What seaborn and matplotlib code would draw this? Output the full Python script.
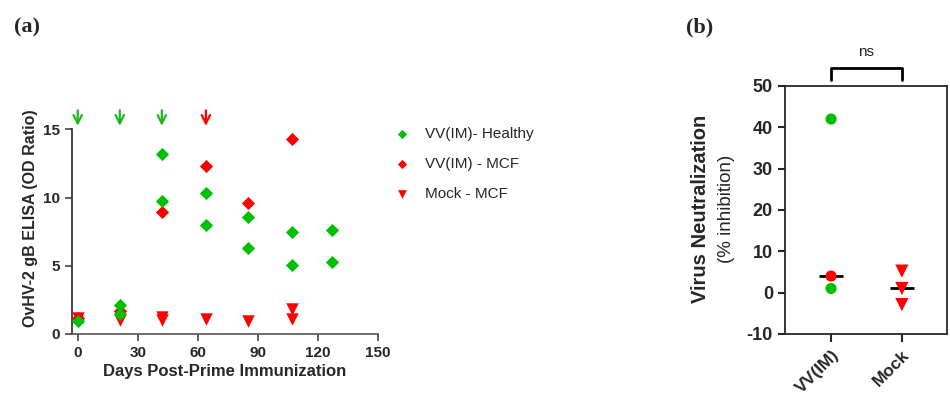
import numpy as np
import pandas as pd
import seaborn as sns
import matplotlib.pyplot as plt

# Panel (a) data: ELISA OD ratio by day
healthy_days = [0, 21, 21, 42, 42, 64, 64, 85, 85, 107, 107, 127, 127]
healthy_od = [0.98, 2.15, 1.47, 13.16, 9.78, 10.34, 8.01, 8.57, 6.27, 7.5, 5.04, 7.65, 5.26]
mcf_days = [0, 21, 42, 64, 85, 107]
mcf_od = [1.2, 1.7, 8.92, 12.3, 9.6, 14.3]
mock_days = [0, 21, 21, 42, 42, 64, 85, 107, 107]
mock_od = [1.2, 1.0, 1.3, 1.05, 1.25, 1.08, 0.98, 1.84, 1.1]
arrow_days = [0, 21, 42, 64]
arrow_colors = ['#1fb51f', '#1fb51f', '#1fb51f', '#ff0000']

# Panel (b) data: virus neutralization
vv_values = [42, 1, 4]
vv_outcome = ['Healthy', 'Healthy', 'MCF']
mock_values = [5.2, 1.0, -2.9]

green = '#00c000'
red = '#ff0000'

df_healthy = pd.DataFrame({'day': healthy_days, 'od': healthy_od})
df_mcf = pd.DataFrame({'day': mcf_days, 'od': mcf_od})
df_mockmcf = pd.DataFrame({'day': mock_days, 'od': mock_od})
df_vv = pd.DataFrame({'grp': 'VV(IM)', 'val': vv_values, 'outcome': vv_outcome})
df_mock = pd.DataFrame({'grp': 'Mock', 'val': mock_values, 'outcome': 'MCF'})

sns.set_style('ticks')
plt.rcParams['font.family'] = ['Liberation Sans', 'DejaVu Sans']
plt.rcParams['axes.unicode_minus'] = False

fig = plt.figure(figsize=(9.5, 3.98), dpi=100)
ax1 = fig.add_axes([0.0755, 0.161, 0.3225, 0.514])
ax2 = fig.add_axes([0.826, 0.161, 0.171, 0.623])

# ---- panel (a)
sns.scatterplot(data=df_mockmcf, x='day', y='od', color=red, marker='v', s=80,
                linewidth=0, ax=ax1, label='Mock - MCF', zorder=3)
sns.scatterplot(data=df_mcf, x='day', y='od', color=red, marker='D', s=45,
                linewidth=0, ax=ax1, label='VV(IM) - MCF', zorder=3)
sns.scatterplot(data=df_healthy, x='day', y='od', color=green, marker='D', s=45,
                linewidth=0, ax=ax1, label='VV(IM)- Healthy', zorder=4)
ax1.set_xlim(-3, 150)
ax1.set_ylim(0, 15)
ax1.set_xticks([0, 30, 60, 90, 120, 150])
ax1.set_yticks([0, 5, 10, 15])
ax1.set_xlabel('Days Post-Prime Immunization', fontsize=12, fontweight='bold', labelpad=3)
ax1.set_ylabel('')
ax1.tick_params(labelsize=11, width=1.2, length=5, color='#444444')
for lab in ax1.get_xticklabels() + ax1.get_yticklabels():
    lab.set_fontweight('bold')
for sp in ['left', 'bottom']:
    ax1.spines[sp].set_linewidth(1.2)
ax1.spines['bottom'].set_color('#555555')
sns.despine(ax=ax1)
fig.text(0.032, 0.452, 'OvHV-2 gB ELISA (OD Ratio)', rotation=90, ha='center', va='center',
         fontsize=11.5, fontweight='bold')

for d, c in zip(arrow_days, arrow_colors):
    ax1.annotate('', xy=(d, 15.05), xytext=(d, 16.6),
                 arrowprops=dict(arrowstyle='->', color=c, lw=1.6, mutation_scale=15),
                 annotation_clip=False)

handles, labels = ax1.get_legend_handles_labels()
idx = [labels.index(n) for n in ['VV(IM)- Healthy', 'VV(IM) - MCF', 'Mock - MCF']]
leg = fig.legend([handles[i] for i in idx], [labels[i] for i in idx],
                 loc='upper left', bbox_to_anchor=(0.407, 0.682), frameon=False,
                 fontsize=11, labelspacing=1.05, handletextpad=0.5, handlelength=2.0,
                 markerscale=0.7, borderpad=0, borderaxespad=0)
ax1.get_legend().remove()

# ---- panel (b)
cats = ['VV(IM)', 'Mock']
sns.stripplot(data=df_vv, x='grp', y='val', hue='outcome', order=cats,
              palette={'Healthy': green, 'MCF': red}, jitter=False, marker='o',
              size=8, linewidth=0, ax=ax2, legend=False, zorder=3)
sns.stripplot(data=df_mock, x='grp', y='val', hue='outcome', order=cats,
              palette={'MCF': red}, jitter=False, marker='v',
              size=9.5, linewidth=0, ax=ax2, legend=False, zorder=3)
medians = [np.median(vv_values), np.median(mock_values)]
for i, m in enumerate(medians):
    ax2.hlines(m, i - 0.17, i + 0.17, color='black', lw=2, zorder=2)

ax2.set_xlim(-0.655, 1.64)
ax2.set_ylim(-10, 50)
ax2.set_yticks(range(-10, 51, 10))
ax2.set_xlabel('')
ax2.set_ylabel('')
ax2.set_xticks([0, 1])
ax2.set_xticklabels(cats, rotation=45, ha='right', rotation_mode='anchor',
                    fontsize=12.5, fontweight='bold')
ax2.tick_params(axis='y', labelsize=13, width=1.5, length=5)
ax2.tick_params(axis='x', width=1.5, length=6)
for lab in ax2.get_yticklabels():
    lab.set_fontweight('bold')
for sp in ax2.spines.values():
    sp.set_linewidth(1.3)

fig.text(0.737, 0.475, 'Virus Neutralization', rotation=90, ha='center', va='center',
         fontsize=14.5, fontweight='bold')
fig.text(0.765, 0.475, '(% inhibition)', rotation=90, ha='center', va='center',
         fontsize=13.5)

# significance bracket
ax2.plot([0, 0, 1, 1], [51.5, 54.3, 54.3, 51.5], color='black', lw=2, clip_on=False)
ax2.text(0.5, 56.5, 'ns', ha='center', va='bottom', fontsize=11)

fig.text(0.015, 0.955, '(a)', fontsize=16, fontweight='bold', family='Liberation Serif', va='top')
fig.text(0.722, 0.955, '(b)', fontsize=16, fontweight='bold', family='Liberation Serif', va='top')

fig.savefig('out.png', dpi=100)
